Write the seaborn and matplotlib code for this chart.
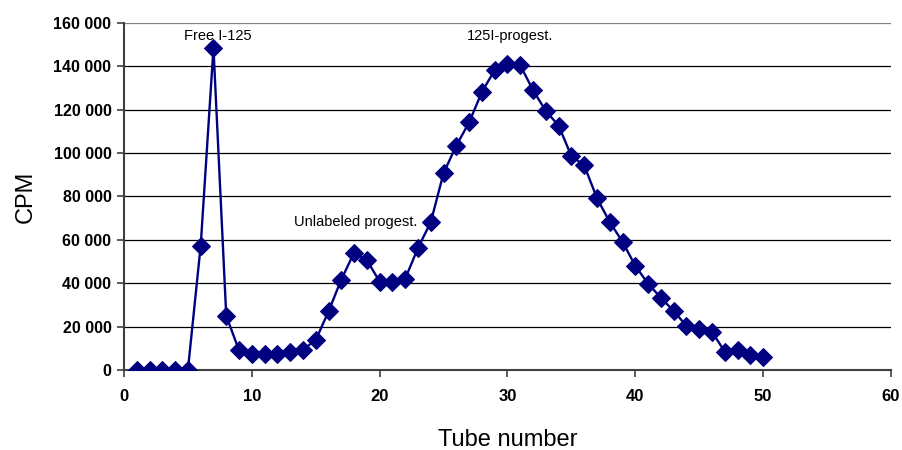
import matplotlib
matplotlib.use("Agg")
import matplotlib.pyplot as plt
import matplotlib.ticker as mticker
import pandas as pd
import seaborn as sns

# Gel filtration profile: radioactivity per collected tube
tube = list(range(1, 51))
cpm = [
    0, 0, 0, 0, 0, 57300, 148500, 25000, 9000, 7300,
    7500, 7600, 8200, 9400, 13800, 27000, 41700, 54100, 50600, 40800,
    40800, 42100, 56300, 68200, 90800, 103500, 114200, 128200, 138300, 141000,
    140500, 129000, 119400, 112700, 98600, 94400, 79200, 68200, 59100, 48000,
    39800, 33300, 27200, 20300, 18700, 17600, 8400, 9000, 7100, 6000,
]

peak_labels = ["Free I-125", "Unlabeled progest.", "125I-progest."]
peak_pos = [(7.35, 153800), (18.15, 68400), (30.2, 153800)]

x_ticks = [0, 10, 20, 30, 40, 50, 60]
y_ticks = [0, 20000, 40000, 60000, 80000, 100000, 120000, 140000, 160000]

df = pd.DataFrame({"Tube": tube, "CPM": cpm})

sns.set_style("white")
plt.rcParams["font.family"] = ["Liberation Sans", "DejaVu Sans"]
plt.rcParams["text.color"] = "black"
plt.rcParams["axes.labelcolor"] = "black"
plt.rcParams["xtick.color"] = "black"
plt.rcParams["ytick.color"] = "black"

fig = plt.figure(figsize=(9.03, 4.5), dpi=100)
ax = fig.add_axes([0.1373, 0.1778, 0.8494, 0.7711])

navy = "#000080"
sns.lineplot(data=df, x="Tube", y="CPM", ax=ax, color=navy, linewidth=1.7,
             marker="D", markersize=9, markeredgecolor=navy,
             markerfacecolor=navy, zorder=3)

ax.set_xlim(0, 60)
ax.set_ylim(0, 160000)
ax.set_xticks(x_ticks)
ax.set_yticks(y_ticks)
ax.yaxis.set_major_formatter(
    mticker.FuncFormatter(lambda v, _: f"{int(v):,}".replace(",", " ")))

for v in y_ticks[1:]:
    ax.axhline(v, color="#000000" if v < 160000 else "#808080",
               linewidth=0.9, zorder=1)

for s in ["top", "right"]:
    ax.spines[s].set_visible(False)
for s in ["left", "bottom"]:
    ax.spines[s].set_color("#404040")
    ax.spines[s].set_linewidth(1.5)

ax.tick_params(axis="both", which="major", direction="out", length=5,
               width=1.2, color="#404040", left=True, bottom=True)
ax.tick_params(axis="y", labelsize=11.5, pad=4, labelcolor="black")
ax.tick_params(axis="x", labelsize=12, pad=9, labelcolor="black")
for lab in ax.get_xticklabels() + ax.get_yticklabels():
    lab.set_fontweight("bold")

ax.set_xlabel("Tube number", fontsize=17, labelpad=18)
ax.set_ylabel("CPM", fontsize=17, labelpad=12)

for text, (px, py) in zip(peak_labels, peak_pos):
    ax.text(px, py, text, fontsize=10.5, ha="center", va="center",
            color="#000000")

fig.savefig("out.png", dpi=100)
